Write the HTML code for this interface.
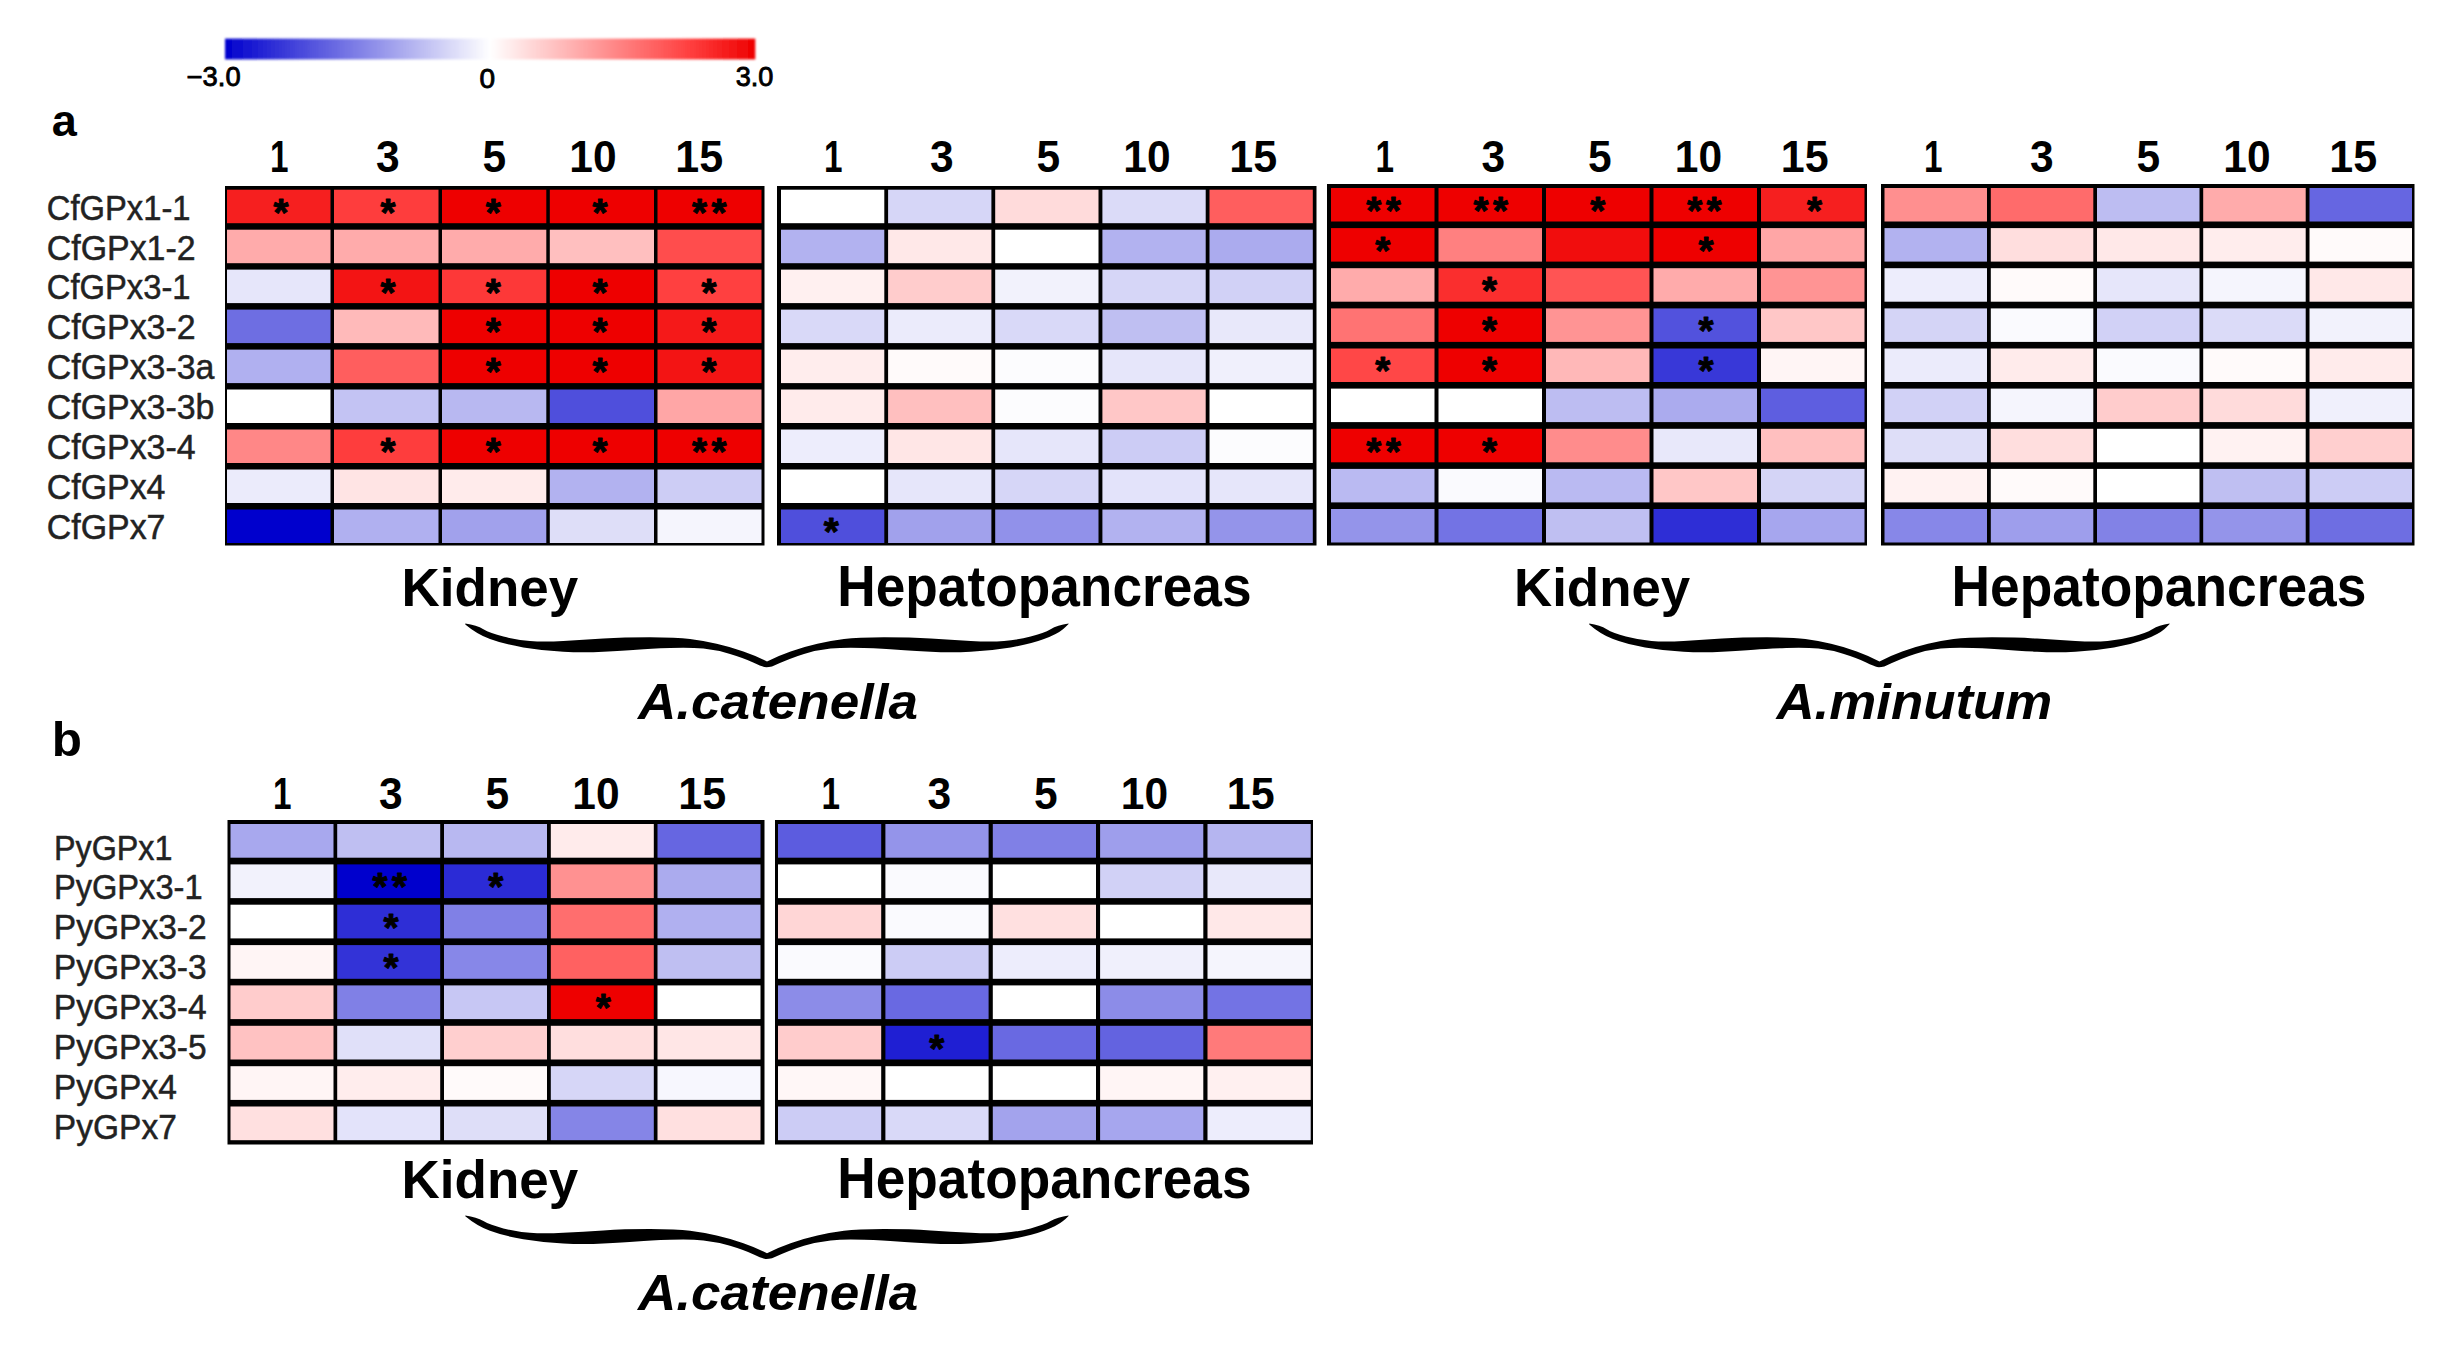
<!DOCTYPE html>
<html lang="en"><head><meta charset="utf-8"><title>GPx expression heat map</title>
<style>html,body{margin:0;padding:0;background:#fff}body{width:2460px;height:1350px;overflow:hidden}svg{display:block}.r{stroke:#222;stroke-width:0.5px}.c{stroke:#000;stroke-width:0.9px}text{font-family:"Liberation Sans", sans-serif}.s{font-weight:bold;font-size:38.5px;stroke:#000;stroke-width:0.9px;stroke-linejoin:round}</style></head><body>
<svg width="2460" height="1350" viewBox="0 0 2460 1350">
<defs><linearGradient id="cb" x1="0" x2="1" y1="0" y2="0"><stop offset="0" stop-color="#0000cd"/><stop offset="0.5" stop-color="#ffffff"/><stop offset="0.875" stop-color="#ff4040"/><stop offset="1" stop-color="#ee0000"/></linearGradient>
<filter id="soft" x="-5%" y="-20%" width="110%" height="140%"><feGaussianBlur stdDeviation="0.8"/></filter>
</defs>
<rect width="2460" height="1350" fill="#fff"/>
<g id="figure">
<g id="colorbar"><rect x="225" y="38.6" width="530.3" height="20.8" fill="url(#cb)" filter="url(#soft)"/></g>
<g id="panel-a1">
<rect x="225" y="186" width="539.5" height="359.5" fill="#000"/>
<rect x="227.0" y="189.7" width="103.5" height="33.5" fill="#f61f1f"/>
<text class="s" x="273.4" y="225.5">*</text>
<rect x="334.0" y="189.7" width="104.5" height="33.5" fill="#fe3d3d"/>
<text class="s" x="380.6" y="225.5">*</text>
<rect x="442.0" y="189.7" width="104.3" height="33.5" fill="#ee0000"/>
<text class="s" x="485.7" y="225.5">*</text>
<rect x="549.8" y="189.7" width="104.2" height="33.5" fill="#ee0000"/>
<text class="s" x="592.4" y="225.5">*</text>
<rect x="657.5" y="189.7" width="104.0" height="33.5" fill="#ee0000"/>
<text class="s" x="692.0" y="225.5" letter-spacing="4.4">**</text>
<rect x="227.0" y="229.7" width="103.5" height="33.5" fill="#ffabab"/>
<rect x="334.0" y="229.7" width="104.5" height="33.5" fill="#ffabab"/>
<rect x="442.0" y="229.7" width="104.3" height="33.5" fill="#ffabab"/>
<rect x="549.8" y="229.7" width="104.2" height="33.5" fill="#ffbfbf"/>
<rect x="657.5" y="229.7" width="104.0" height="33.5" fill="#ff4d4d"/>
<rect x="227.0" y="269.6" width="103.5" height="33.5" fill="#e6e6fa"/>
<rect x="334.0" y="269.6" width="104.5" height="33.5" fill="#f31414"/>
<text class="s" x="380.6" y="305.5">*</text>
<rect x="442.0" y="269.6" width="104.3" height="33.5" fill="#fd3838"/>
<text class="s" x="485.7" y="305.5">*</text>
<rect x="549.8" y="269.6" width="104.2" height="33.5" fill="#ee0000"/>
<text class="s" x="592.4" y="305.5">*</text>
<rect x="657.5" y="269.6" width="104.0" height="33.5" fill="#ff4040"/>
<text class="s" x="701.4" y="305.5">*</text>
<rect x="227.0" y="309.6" width="103.5" height="33.5" fill="#6e6ee2"/>
<rect x="334.0" y="309.6" width="104.5" height="33.5" fill="#ffbaba"/>
<rect x="442.0" y="309.6" width="104.3" height="33.5" fill="#ee0000"/>
<text class="s" x="485.7" y="345.4">*</text>
<rect x="549.8" y="309.6" width="104.2" height="33.5" fill="#ee0000"/>
<text class="s" x="592.4" y="345.4">*</text>
<rect x="657.5" y="309.6" width="104.0" height="33.5" fill="#f51919"/>
<text class="s" x="701.4" y="345.4">*</text>
<rect x="227.0" y="349.6" width="103.5" height="33.5" fill="#b0b0f0"/>
<rect x="334.0" y="349.6" width="104.5" height="33.5" fill="#ff5e5e"/>
<rect x="442.0" y="349.6" width="104.3" height="33.5" fill="#ee0000"/>
<text class="s" x="485.7" y="385.4">*</text>
<rect x="549.8" y="349.6" width="104.2" height="33.5" fill="#ee0000"/>
<text class="s" x="592.4" y="385.4">*</text>
<rect x="657.5" y="349.6" width="104.0" height="33.5" fill="#f31414"/>
<text class="s" x="701.4" y="385.4">*</text>
<rect x="227.0" y="389.5" width="103.5" height="33.5" fill="#ffffff"/>
<rect x="334.0" y="389.5" width="104.5" height="33.5" fill="#c3c3f3"/>
<rect x="442.0" y="389.5" width="104.3" height="33.5" fill="#b8b8f1"/>
<rect x="549.8" y="389.5" width="104.2" height="33.5" fill="#4f4fdc"/>
<rect x="657.5" y="389.5" width="104.0" height="33.5" fill="#ffa6a6"/>
<rect x="227.0" y="429.5" width="103.5" height="33.5" fill="#ff8787"/>
<rect x="334.0" y="429.5" width="104.5" height="33.5" fill="#fe3d3d"/>
<text class="s" x="380.6" y="465.3">*</text>
<rect x="442.0" y="429.5" width="104.3" height="33.5" fill="#ee0000"/>
<text class="s" x="485.7" y="465.3">*</text>
<rect x="549.8" y="429.5" width="104.2" height="33.5" fill="#ee0000"/>
<text class="s" x="592.4" y="465.3">*</text>
<rect x="657.5" y="429.5" width="104.0" height="33.5" fill="#ee0000"/>
<text class="s" x="692.0" y="465.3" letter-spacing="4.4">**</text>
<rect x="227.0" y="469.5" width="103.5" height="33.5" fill="#ebebfb"/>
<rect x="334.0" y="469.5" width="104.5" height="33.5" fill="#ffe4e4"/>
<rect x="442.0" y="469.5" width="104.3" height="33.5" fill="#ffebeb"/>
<rect x="549.8" y="469.5" width="104.2" height="33.5" fill="#b2b2f0"/>
<rect x="657.5" y="469.5" width="104.0" height="33.5" fill="#cdcdf5"/>
<rect x="227.0" y="509.5" width="103.5" height="33.5" fill="#0000cd"/>
<rect x="334.0" y="509.5" width="104.5" height="33.5" fill="#b0b0f0"/>
<rect x="442.0" y="509.5" width="104.3" height="33.5" fill="#a1a1ec"/>
<rect x="549.8" y="509.5" width="104.2" height="33.5" fill="#dedef8"/>
<rect x="657.5" y="509.5" width="104.0" height="33.5" fill="#f5f5fd"/>
</g>
<g id="panel-a2">
<rect x="777" y="186" width="539.5" height="359.5" fill="#000"/>
<rect x="781.0" y="189.7" width="103.3" height="33.5" fill="#ffffff"/>
<rect x="888.1" y="189.7" width="103.3" height="33.5" fill="#d6d6f7"/>
<rect x="995.2" y="189.7" width="103.3" height="33.5" fill="#ffdbdb"/>
<rect x="1102.4" y="189.7" width="103.3" height="33.5" fill="#dbdbf8"/>
<rect x="1209.5" y="189.7" width="103.3" height="33.5" fill="#ff5e5e"/>
<rect x="781.0" y="229.7" width="103.3" height="33.5" fill="#b2b2f0"/>
<rect x="888.1" y="229.7" width="103.3" height="33.5" fill="#ffe8e8"/>
<rect x="995.2" y="229.7" width="103.3" height="33.5" fill="#ffffff"/>
<rect x="1102.4" y="229.7" width="103.3" height="33.5" fill="#b2b2f0"/>
<rect x="1209.5" y="229.7" width="103.3" height="33.5" fill="#ababee"/>
<rect x="781.0" y="269.6" width="103.3" height="33.5" fill="#fff0f0"/>
<rect x="888.1" y="269.6" width="103.3" height="33.5" fill="#ffcccc"/>
<rect x="995.2" y="269.6" width="103.3" height="33.5" fill="#f2f2fc"/>
<rect x="1102.4" y="269.6" width="103.3" height="33.5" fill="#d6d6f7"/>
<rect x="1209.5" y="269.6" width="103.3" height="33.5" fill="#d1d1f6"/>
<rect x="781.0" y="309.6" width="103.3" height="33.5" fill="#d9d9f8"/>
<rect x="888.1" y="309.6" width="103.3" height="33.5" fill="#ebebfb"/>
<rect x="995.2" y="309.6" width="103.3" height="33.5" fill="#d9d9f8"/>
<rect x="1102.4" y="309.6" width="103.3" height="33.5" fill="#bfbff2"/>
<rect x="1209.5" y="309.6" width="103.3" height="33.5" fill="#e8e8fa"/>
<rect x="781.0" y="349.6" width="103.3" height="33.5" fill="#ffeded"/>
<rect x="888.1" y="349.6" width="103.3" height="33.5" fill="#fffafa"/>
<rect x="995.2" y="349.6" width="103.3" height="33.5" fill="#fcfcfe"/>
<rect x="1102.4" y="349.6" width="103.3" height="33.5" fill="#e6e6fa"/>
<rect x="1209.5" y="349.6" width="103.3" height="33.5" fill="#f0f0fc"/>
<rect x="781.0" y="389.5" width="103.3" height="33.5" fill="#ffebeb"/>
<rect x="888.1" y="389.5" width="103.3" height="33.5" fill="#ffbfbf"/>
<rect x="995.2" y="389.5" width="103.3" height="33.5" fill="#fcfcfe"/>
<rect x="1102.4" y="389.5" width="103.3" height="33.5" fill="#ffc7c7"/>
<rect x="1209.5" y="389.5" width="103.3" height="33.5" fill="#ffffff"/>
<rect x="781.0" y="429.5" width="103.3" height="33.5" fill="#ededfc"/>
<rect x="888.1" y="429.5" width="103.3" height="33.5" fill="#ffe6e6"/>
<rect x="995.2" y="429.5" width="103.3" height="33.5" fill="#e6e6fa"/>
<rect x="1102.4" y="429.5" width="103.3" height="33.5" fill="#ccccf5"/>
<rect x="1209.5" y="429.5" width="103.3" height="33.5" fill="#fcfcfe"/>
<rect x="781.0" y="469.5" width="103.3" height="33.5" fill="#ffffff"/>
<rect x="888.1" y="469.5" width="103.3" height="33.5" fill="#e6e6fa"/>
<rect x="995.2" y="469.5" width="103.3" height="33.5" fill="#d6d6f7"/>
<rect x="1102.4" y="469.5" width="103.3" height="33.5" fill="#e3e3fa"/>
<rect x="1209.5" y="469.5" width="103.3" height="33.5" fill="#e6e6fa"/>
<rect x="781.0" y="509.5" width="103.3" height="33.5" fill="#4f4fdc"/>
<text class="s" x="823.8" y="545.3">*</text>
<rect x="888.1" y="509.5" width="103.3" height="33.5" fill="#a1a1ec"/>
<rect x="995.2" y="509.5" width="103.3" height="33.5" fill="#9191ea"/>
<rect x="1102.4" y="509.5" width="103.3" height="33.5" fill="#b2b2f0"/>
<rect x="1209.5" y="509.5" width="103.3" height="33.5" fill="#9494ea"/>
</g>
<g id="panel-a3">
<rect x="1327" y="184" width="540" height="361.5" fill="#000"/>
<rect x="1331.0" y="188.0" width="103.5" height="33.5" fill="#ee0000"/>
<text class="s" x="1366.3" y="223.8" letter-spacing="4.4">**</text>
<rect x="1438.5" y="188.0" width="103.5" height="33.5" fill="#ee0000"/>
<text class="s" x="1473.5" y="223.8" letter-spacing="4.4">**</text>
<rect x="1546.0" y="188.0" width="103.5" height="33.5" fill="#ee0000"/>
<text class="s" x="1590.2" y="223.8">*</text>
<rect x="1653.5" y="188.0" width="103.5" height="33.5" fill="#ee0000"/>
<text class="s" x="1687.2" y="223.8" letter-spacing="4.4">**</text>
<rect x="1761.0" y="188.0" width="103.5" height="33.5" fill="#f61f1f"/>
<text class="s" x="1807.1" y="223.8">*</text>
<rect x="1331.0" y="228.1" width="103.5" height="33.5" fill="#ee0000"/>
<text class="s" x="1375.3" y="263.9">*</text>
<rect x="1438.5" y="228.1" width="103.5" height="33.5" fill="#ff8080"/>
<rect x="1546.0" y="228.1" width="103.5" height="33.5" fill="#f10d0d"/>
<rect x="1653.5" y="228.1" width="103.5" height="33.5" fill="#ee0000"/>
<text class="s" x="1698.5" y="263.9">*</text>
<rect x="1761.0" y="228.1" width="103.5" height="33.5" fill="#ffa6a6"/>
<rect x="1331.0" y="268.2" width="103.5" height="33.5" fill="#ffabab"/>
<rect x="1438.5" y="268.2" width="103.5" height="33.5" fill="#fa2e2e"/>
<text class="s" x="1482.1" y="304.1">*</text>
<rect x="1546.0" y="268.2" width="103.5" height="33.5" fill="#ff5454"/>
<rect x="1653.5" y="268.2" width="103.5" height="33.5" fill="#ffabab"/>
<rect x="1761.0" y="268.2" width="103.5" height="33.5" fill="#ff9494"/>
<rect x="1331.0" y="308.4" width="103.5" height="33.5" fill="#ff7373"/>
<rect x="1438.5" y="308.4" width="103.5" height="33.5" fill="#ee0000"/>
<text class="s" x="1482.1" y="344.2">*</text>
<rect x="1546.0" y="308.4" width="103.5" height="33.5" fill="#ff9494"/>
<rect x="1653.5" y="308.4" width="103.5" height="33.5" fill="#5252dd"/>
<text class="s" x="1698.5" y="344.2">*</text>
<rect x="1761.0" y="308.4" width="103.5" height="33.5" fill="#ffc7c7"/>
<rect x="1331.0" y="348.5" width="103.5" height="33.5" fill="#ff4747"/>
<text class="s" x="1375.3" y="384.3">*</text>
<rect x="1438.5" y="348.5" width="103.5" height="33.5" fill="#ee0000"/>
<text class="s" x="1482.1" y="384.3">*</text>
<rect x="1546.0" y="348.5" width="103.5" height="33.5" fill="#ffb8b8"/>
<rect x="1653.5" y="348.5" width="103.5" height="33.5" fill="#3838d8"/>
<text class="s" x="1698.5" y="384.3">*</text>
<rect x="1761.0" y="348.5" width="103.5" height="33.5" fill="#fff5f5"/>
<rect x="1331.0" y="388.6" width="103.5" height="33.5" fill="#ffffff"/>
<rect x="1438.5" y="388.6" width="103.5" height="33.5" fill="#ffffff"/>
<rect x="1546.0" y="388.6" width="103.5" height="33.5" fill="#bdbdf2"/>
<rect x="1653.5" y="388.6" width="103.5" height="33.5" fill="#ababee"/>
<rect x="1761.0" y="388.6" width="103.5" height="33.5" fill="#5e5ee0"/>
<rect x="1331.0" y="428.8" width="103.5" height="33.5" fill="#ee0000"/>
<text class="s" x="1366.3" y="464.6" letter-spacing="4.4">**</text>
<rect x="1438.5" y="428.8" width="103.5" height="33.5" fill="#ee0000"/>
<text class="s" x="1482.1" y="464.6">*</text>
<rect x="1546.0" y="428.8" width="103.5" height="33.5" fill="#ff8c8c"/>
<rect x="1653.5" y="428.8" width="103.5" height="33.5" fill="#e8e8fa"/>
<rect x="1761.0" y="428.8" width="103.5" height="33.5" fill="#ffbfbf"/>
<rect x="1331.0" y="468.9" width="103.5" height="33.5" fill="#babaf2"/>
<rect x="1438.5" y="468.9" width="103.5" height="33.5" fill="#fafafe"/>
<rect x="1546.0" y="468.9" width="103.5" height="33.5" fill="#babaf2"/>
<rect x="1653.5" y="468.9" width="103.5" height="33.5" fill="#ffc7c7"/>
<rect x="1761.0" y="468.9" width="103.5" height="33.5" fill="#d4d4f6"/>
<rect x="1331.0" y="509.0" width="103.5" height="33.5" fill="#9494ea"/>
<rect x="1438.5" y="509.0" width="103.5" height="33.5" fill="#7373e4"/>
<rect x="1546.0" y="509.0" width="103.5" height="33.5" fill="#bfbff2"/>
<rect x="1653.5" y="509.0" width="103.5" height="33.5" fill="#2e2ed6"/>
<rect x="1761.0" y="509.0" width="103.5" height="33.5" fill="#a6a6ee"/>
</g>
<g id="panel-a4">
<rect x="1881" y="184" width="533.5" height="361.5" fill="#000"/>
<rect x="1884.5" y="188.0" width="102.5" height="33.5" fill="#ff8f8f"/>
<rect x="1990.8" y="188.0" width="102.5" height="33.5" fill="#ff6b6b"/>
<rect x="2097.0" y="188.0" width="102.5" height="33.5" fill="#bdbdf2"/>
<rect x="2203.2" y="188.0" width="102.5" height="33.5" fill="#ffabab"/>
<rect x="2309.5" y="188.0" width="102.5" height="33.5" fill="#6666e1"/>
<rect x="1884.5" y="228.1" width="102.5" height="33.5" fill="#b2b2f0"/>
<rect x="1990.8" y="228.1" width="102.5" height="33.5" fill="#ffdede"/>
<rect x="2097.0" y="228.1" width="102.5" height="33.5" fill="#ffe8e8"/>
<rect x="2203.2" y="228.1" width="102.5" height="33.5" fill="#ffeded"/>
<rect x="2309.5" y="228.1" width="102.5" height="33.5" fill="#fffafa"/>
<rect x="1884.5" y="268.2" width="102.5" height="33.5" fill="#ededfc"/>
<rect x="1990.8" y="268.2" width="102.5" height="33.5" fill="#fffafa"/>
<rect x="2097.0" y="268.2" width="102.5" height="33.5" fill="#e6e6fa"/>
<rect x="2203.2" y="268.2" width="102.5" height="33.5" fill="#f5f5fd"/>
<rect x="2309.5" y="268.2" width="102.5" height="33.5" fill="#ffe8e8"/>
<rect x="1884.5" y="308.4" width="102.5" height="33.5" fill="#d4d4f6"/>
<rect x="1990.8" y="308.4" width="102.5" height="33.5" fill="#fafafe"/>
<rect x="2097.0" y="308.4" width="102.5" height="33.5" fill="#d1d1f6"/>
<rect x="2203.2" y="308.4" width="102.5" height="33.5" fill="#dbdbf8"/>
<rect x="2309.5" y="308.4" width="102.5" height="33.5" fill="#f2f2fc"/>
<rect x="1884.5" y="348.5" width="102.5" height="33.5" fill="#ebebfb"/>
<rect x="1990.8" y="348.5" width="102.5" height="33.5" fill="#ffebeb"/>
<rect x="2097.0" y="348.5" width="102.5" height="33.5" fill="#fafafe"/>
<rect x="2203.2" y="348.5" width="102.5" height="33.5" fill="#fffafa"/>
<rect x="2309.5" y="348.5" width="102.5" height="33.5" fill="#ffebeb"/>
<rect x="1884.5" y="388.6" width="102.5" height="33.5" fill="#d1d1f6"/>
<rect x="1990.8" y="388.6" width="102.5" height="33.5" fill="#f5f5fd"/>
<rect x="2097.0" y="388.6" width="102.5" height="33.5" fill="#ffcccc"/>
<rect x="2203.2" y="388.6" width="102.5" height="33.5" fill="#ffdbdb"/>
<rect x="2309.5" y="388.6" width="102.5" height="33.5" fill="#f0f0fc"/>
<rect x="1884.5" y="428.8" width="102.5" height="33.5" fill="#dedef8"/>
<rect x="1990.8" y="428.8" width="102.5" height="33.5" fill="#ffdede"/>
<rect x="2097.0" y="428.8" width="102.5" height="33.5" fill="#ffffff"/>
<rect x="2203.2" y="428.8" width="102.5" height="33.5" fill="#fff2f2"/>
<rect x="2309.5" y="428.8" width="102.5" height="33.5" fill="#ffcfcf"/>
<rect x="1884.5" y="468.9" width="102.5" height="33.5" fill="#fff2f2"/>
<rect x="1990.8" y="468.9" width="102.5" height="33.5" fill="#fffafa"/>
<rect x="2097.0" y="468.9" width="102.5" height="33.5" fill="#ffffff"/>
<rect x="2203.2" y="468.9" width="102.5" height="33.5" fill="#bfbff2"/>
<rect x="2309.5" y="468.9" width="102.5" height="33.5" fill="#ccccf5"/>
<rect x="1884.5" y="509.0" width="102.5" height="33.5" fill="#8787e8"/>
<rect x="1990.8" y="509.0" width="102.5" height="33.5" fill="#9e9eec"/>
<rect x="2097.0" y="509.0" width="102.5" height="33.5" fill="#8282e6"/>
<rect x="2203.2" y="509.0" width="102.5" height="33.5" fill="#9494ea"/>
<rect x="2309.5" y="509.0" width="102.5" height="33.5" fill="#6e6ee2"/>
</g>
<g id="panel-b1">
<rect x="227.5" y="820" width="537" height="324.5" fill="#000"/>
<rect x="230.5" y="824.0" width="103.0" height="33.7" fill="#a8a8ee"/>
<rect x="337.2" y="824.0" width="103.0" height="33.7" fill="#bfbff2"/>
<rect x="444.0" y="824.0" width="103.0" height="33.7" fill="#b8b8f1"/>
<rect x="550.8" y="824.0" width="103.0" height="33.7" fill="#ffebeb"/>
<rect x="657.5" y="824.0" width="103.0" height="33.7" fill="#6666e1"/>
<rect x="230.5" y="864.4" width="103.0" height="33.7" fill="#f2f2fc"/>
<rect x="337.2" y="864.4" width="103.0" height="33.7" fill="#0000cd"/>
<text class="s" x="372.5" y="900.3" letter-spacing="4.4">**</text>
<rect x="444.0" y="864.4" width="103.0" height="33.7" fill="#2b2bd6"/>
<text class="s" x="488.2" y="900.3">*</text>
<rect x="550.8" y="864.4" width="103.0" height="33.7" fill="#ff9191"/>
<rect x="657.5" y="864.4" width="103.0" height="33.7" fill="#ababee"/>
<rect x="230.5" y="904.7" width="103.0" height="33.7" fill="#ffffff"/>
<rect x="337.2" y="904.7" width="103.0" height="33.7" fill="#2e2ed6"/>
<text class="s" x="383.6" y="940.6">*</text>
<rect x="444.0" y="904.7" width="103.0" height="33.7" fill="#8080e6"/>
<rect x="550.8" y="904.7" width="103.0" height="33.7" fill="#ff6e6e"/>
<rect x="657.5" y="904.7" width="103.0" height="33.7" fill="#b0b0f0"/>
<rect x="230.5" y="945.1" width="103.0" height="33.7" fill="#fff5f5"/>
<rect x="337.2" y="945.1" width="103.0" height="33.7" fill="#3333d7"/>
<text class="s" x="383.6" y="981.0">*</text>
<rect x="444.0" y="945.1" width="103.0" height="33.7" fill="#8787e8"/>
<rect x="550.8" y="945.1" width="103.0" height="33.7" fill="#ff6161"/>
<rect x="657.5" y="945.1" width="103.0" height="33.7" fill="#bfbff2"/>
<rect x="230.5" y="985.4" width="103.0" height="33.7" fill="#ffcccc"/>
<rect x="337.2" y="985.4" width="103.0" height="33.7" fill="#8080e6"/>
<rect x="444.0" y="985.4" width="103.0" height="33.7" fill="#c7c7f4"/>
<rect x="550.8" y="985.4" width="103.0" height="33.7" fill="#ee0000"/>
<text class="s" x="595.7" y="1021.4">*</text>
<rect x="657.5" y="985.4" width="103.0" height="33.7" fill="#ffffff"/>
<rect x="230.5" y="1025.8" width="103.0" height="33.7" fill="#ffc2c2"/>
<rect x="337.2" y="1025.8" width="103.0" height="33.7" fill="#e0e0f9"/>
<rect x="444.0" y="1025.8" width="103.0" height="33.7" fill="#ffcfcf"/>
<rect x="550.8" y="1025.8" width="103.0" height="33.7" fill="#ffdede"/>
<rect x="657.5" y="1025.8" width="103.0" height="33.7" fill="#ffe6e6"/>
<rect x="230.5" y="1066.2" width="103.0" height="33.7" fill="#fff5f5"/>
<rect x="337.2" y="1066.2" width="103.0" height="33.7" fill="#ffeded"/>
<rect x="444.0" y="1066.2" width="103.0" height="33.7" fill="#fffafa"/>
<rect x="550.8" y="1066.2" width="103.0" height="33.7" fill="#d6d6f7"/>
<rect x="657.5" y="1066.2" width="103.0" height="33.7" fill="#f7f7fe"/>
<rect x="230.5" y="1106.5" width="103.0" height="33.7" fill="#ffe0e0"/>
<rect x="337.2" y="1106.5" width="103.0" height="33.7" fill="#e3e3fa"/>
<rect x="444.0" y="1106.5" width="103.0" height="33.7" fill="#dedef8"/>
<rect x="550.8" y="1106.5" width="103.0" height="33.7" fill="#8585e7"/>
<rect x="657.5" y="1106.5" width="103.0" height="33.7" fill="#ffe0e0"/>
</g>
<g id="panel-b2">
<rect x="775" y="820" width="538" height="324.5" fill="#000"/>
<rect x="778.0" y="824.0" width="103.2" height="33.7" fill="#5c5cdf"/>
<rect x="885.4" y="824.0" width="103.2" height="33.7" fill="#9494ea"/>
<rect x="992.8" y="824.0" width="103.2" height="33.7" fill="#8080e6"/>
<rect x="1100.1" y="824.0" width="103.2" height="33.7" fill="#9e9eec"/>
<rect x="1207.5" y="824.0" width="103.2" height="33.7" fill="#b5b5f0"/>
<rect x="778.0" y="864.4" width="103.2" height="33.7" fill="#ffffff"/>
<rect x="885.4" y="864.4" width="103.2" height="33.7" fill="#fafafe"/>
<rect x="992.8" y="864.4" width="103.2" height="33.7" fill="#ffffff"/>
<rect x="1100.1" y="864.4" width="103.2" height="33.7" fill="#d1d1f6"/>
<rect x="1207.5" y="864.4" width="103.2" height="33.7" fill="#e8e8fa"/>
<rect x="778.0" y="904.7" width="103.2" height="33.7" fill="#ffd6d6"/>
<rect x="885.4" y="904.7" width="103.2" height="33.7" fill="#fafafe"/>
<rect x="992.8" y="904.7" width="103.2" height="33.7" fill="#ffe0e0"/>
<rect x="1100.1" y="904.7" width="103.2" height="33.7" fill="#ffffff"/>
<rect x="1207.5" y="904.7" width="103.2" height="33.7" fill="#ffe8e8"/>
<rect x="778.0" y="945.1" width="103.2" height="33.7" fill="#fafafe"/>
<rect x="885.4" y="945.1" width="103.2" height="33.7" fill="#ccccf5"/>
<rect x="992.8" y="945.1" width="103.2" height="33.7" fill="#ededfc"/>
<rect x="1100.1" y="945.1" width="103.2" height="33.7" fill="#f0f0fc"/>
<rect x="1207.5" y="945.1" width="103.2" height="33.7" fill="#f5f5fd"/>
<rect x="778.0" y="985.4" width="103.2" height="33.7" fill="#8c8ce8"/>
<rect x="885.4" y="985.4" width="103.2" height="33.7" fill="#6969e2"/>
<rect x="992.8" y="985.4" width="103.2" height="33.7" fill="#ffffff"/>
<rect x="1100.1" y="985.4" width="103.2" height="33.7" fill="#8c8ce8"/>
<rect x="1207.5" y="985.4" width="103.2" height="33.7" fill="#7373e4"/>
<rect x="778.0" y="1025.8" width="103.2" height="33.7" fill="#ffcccc"/>
<rect x="885.4" y="1025.8" width="103.2" height="33.7" fill="#1f1fd3"/>
<text class="s" x="929.2" y="1061.7">*</text>
<rect x="992.8" y="1025.8" width="103.2" height="33.7" fill="#6969e2"/>
<rect x="1100.1" y="1025.8" width="103.2" height="33.7" fill="#6363e0"/>
<rect x="1207.5" y="1025.8" width="103.2" height="33.7" fill="#ff7a7a"/>
<rect x="778.0" y="1066.2" width="103.2" height="33.7" fill="#fff7f7"/>
<rect x="885.4" y="1066.2" width="103.2" height="33.7" fill="#ffffff"/>
<rect x="992.8" y="1066.2" width="103.2" height="33.7" fill="#ffffff"/>
<rect x="1100.1" y="1066.2" width="103.2" height="33.7" fill="#fff5f5"/>
<rect x="1207.5" y="1066.2" width="103.2" height="33.7" fill="#fff0f0"/>
<rect x="778.0" y="1106.5" width="103.2" height="33.7" fill="#ccccf5"/>
<rect x="885.4" y="1106.5" width="103.2" height="33.7" fill="#d9d9f8"/>
<rect x="992.8" y="1106.5" width="103.2" height="33.7" fill="#a3a3ed"/>
<rect x="1100.1" y="1106.5" width="103.2" height="33.7" fill="#a6a6ee"/>
<rect x="1207.5" y="1106.5" width="103.2" height="33.7" fill="#ededfc"/>
</g>
<g id="labels">
<text class="c" transform="translate(186.64,86.10) scale(0.9763,0.9590)" font-size="28" font-weight="normal" fill="#000">−3.0</text>
<text class="c" transform="translate(479.40,88.10) scale(1.0000,0.9949)" font-size="28" font-weight="normal" fill="#000">0</text>
<text class="c" transform="translate(735.73,86.10) scale(0.9687,0.9949)" font-size="28" font-weight="normal" fill="#000">3.0</text>
<text transform="translate(51.78,136.30) scale(0.9796,0.9818)" font-size="46" font-weight="bold" fill="#000">a</text>
<text transform="translate(51.77,756.30) scale(1.0753,1.0617)" font-size="46" font-weight="bold" fill="#000">b</text>
<text transform="translate(269.92,172.00) scale(0.7561,1.0248)" font-size="44" font-weight="bold" fill="#000">1</text>
<text transform="translate(376.03,172.00) scale(0.9655,1.0081)" font-size="44" font-weight="bold" fill="#000">3</text>
<text transform="translate(482.55,172.00) scale(0.9655,1.0248)" font-size="44" font-weight="bold" fill="#000">5</text>
<text transform="translate(569.34,172.00) scale(0.9663,1.0081)" font-size="44" font-weight="bold" fill="#000">10</text>
<text transform="translate(675.31,172.00) scale(0.9778,1.0248)" font-size="44" font-weight="bold" fill="#000">15</text>
<text transform="translate(823.92,172.00) scale(0.7561,1.0248)" font-size="44" font-weight="bold" fill="#000">1</text>
<text transform="translate(930.03,172.00) scale(0.9655,1.0081)" font-size="44" font-weight="bold" fill="#000">3</text>
<text transform="translate(1036.55,172.00) scale(0.9655,1.0248)" font-size="44" font-weight="bold" fill="#000">5</text>
<text transform="translate(1123.34,172.00) scale(0.9663,1.0081)" font-size="44" font-weight="bold" fill="#000">10</text>
<text transform="translate(1229.31,172.00) scale(0.9778,1.0248)" font-size="44" font-weight="bold" fill="#000">15</text>
<text transform="translate(1375.42,172.00) scale(0.7561,1.0248)" font-size="44" font-weight="bold" fill="#000">1</text>
<text transform="translate(1481.53,172.00) scale(0.9655,1.0081)" font-size="44" font-weight="bold" fill="#000">3</text>
<text transform="translate(1588.05,172.00) scale(0.9655,1.0248)" font-size="44" font-weight="bold" fill="#000">5</text>
<text transform="translate(1674.84,172.00) scale(0.9663,1.0081)" font-size="44" font-weight="bold" fill="#000">10</text>
<text transform="translate(1780.81,172.00) scale(0.9778,1.0248)" font-size="44" font-weight="bold" fill="#000">15</text>
<text transform="translate(1923.92,172.00) scale(0.7561,1.0248)" font-size="44" font-weight="bold" fill="#000">1</text>
<text transform="translate(2030.03,172.00) scale(0.9655,1.0081)" font-size="44" font-weight="bold" fill="#000">3</text>
<text transform="translate(2136.55,172.00) scale(0.9655,1.0248)" font-size="44" font-weight="bold" fill="#000">5</text>
<text transform="translate(2223.34,172.00) scale(0.9663,1.0081)" font-size="44" font-weight="bold" fill="#000">10</text>
<text transform="translate(2329.31,172.00) scale(0.9778,1.0248)" font-size="44" font-weight="bold" fill="#000">15</text>
<text transform="translate(272.92,809.00) scale(0.7561,1.0248)" font-size="44" font-weight="bold" fill="#000">1</text>
<text transform="translate(379.03,809.00) scale(0.9655,1.0081)" font-size="44" font-weight="bold" fill="#000">3</text>
<text transform="translate(485.55,809.00) scale(0.9655,1.0248)" font-size="44" font-weight="bold" fill="#000">5</text>
<text transform="translate(572.34,809.00) scale(0.9663,1.0081)" font-size="44" font-weight="bold" fill="#000">10</text>
<text transform="translate(678.31,809.00) scale(0.9778,1.0248)" font-size="44" font-weight="bold" fill="#000">15</text>
<text transform="translate(821.42,809.00) scale(0.7561,1.0248)" font-size="44" font-weight="bold" fill="#000">1</text>
<text transform="translate(927.53,809.00) scale(0.9655,1.0081)" font-size="44" font-weight="bold" fill="#000">3</text>
<text transform="translate(1034.05,809.00) scale(0.9655,1.0248)" font-size="44" font-weight="bold" fill="#000">5</text>
<text transform="translate(1120.84,809.00) scale(0.9663,1.0081)" font-size="44" font-weight="bold" fill="#000">10</text>
<text transform="translate(1226.81,809.00) scale(0.9778,1.0248)" font-size="44" font-weight="bold" fill="#000">15</text>
<text class="r" transform="translate(46.86,219.70) scale(0.9351,0.9782)" font-size="35" font-weight="normal" fill="#222">CfGPx1-1</text>
<text class="r" transform="translate(46.81,259.55) scale(0.9684,0.9782)" font-size="35" font-weight="normal" fill="#222">CfGPx1-2</text>
<text class="r" transform="translate(46.86,299.40) scale(0.9351,0.9782)" font-size="35" font-weight="normal" fill="#222">CfGPx3-1</text>
<text class="r" transform="translate(46.81,339.25) scale(0.9684,0.9782)" font-size="35" font-weight="normal" fill="#222">CfGPx3-2</text>
<text class="r" transform="translate(46.81,379.10) scale(0.9684,0.9782)" font-size="35" font-weight="normal" fill="#222">CfGPx3-3a</text>
<text class="r" transform="translate(46.81,418.95) scale(0.9684,0.9782)" font-size="35" font-weight="normal" fill="#222">CfGPx3-3b</text>
<text class="r" transform="translate(46.81,458.80) scale(0.9684,0.9782)" font-size="35" font-weight="normal" fill="#222">CfGPx3-4</text>
<text class="r" transform="translate(46.81,498.65) scale(0.9684,0.9782)" font-size="35" font-weight="normal" fill="#222">CfGPx4</text>
<text class="r" transform="translate(46.81,538.50) scale(0.9684,0.9782)" font-size="35" font-weight="normal" fill="#222">CfGPx7</text>
<text class="r" transform="translate(53.96,859.50) scale(0.9234,1.0204)" font-size="35" font-weight="normal" fill="#222">PyGPx1</text>
<text class="r" transform="translate(53.94,899.40) scale(0.9323,1.0204)" font-size="35" font-weight="normal" fill="#222">PyGPx3-1</text>
<text class="r" transform="translate(53.87,939.30) scale(0.9581,1.0204)" font-size="35" font-weight="normal" fill="#222">PyGPx3-2</text>
<text class="r" transform="translate(53.87,979.20) scale(0.9581,1.0204)" font-size="35" font-weight="normal" fill="#222">PyGPx3-3</text>
<text class="r" transform="translate(53.87,1019.10) scale(0.9581,1.0204)" font-size="35" font-weight="normal" fill="#222">PyGPx3-4</text>
<text class="r" transform="translate(53.87,1059.00) scale(0.9581,1.0204)" font-size="35" font-weight="normal" fill="#222">PyGPx3-5</text>
<text class="r" transform="translate(53.87,1098.90) scale(0.9581,1.0204)" font-size="35" font-weight="normal" fill="#222">PyGPx4</text>
<text class="r" transform="translate(53.87,1138.80) scale(0.9581,1.0204)" font-size="35" font-weight="normal" fill="#222">PyGPx7</text>
<text transform="translate(401.56,605.80) scale(0.9816,1.0026)" font-size="54" font-weight="bold" fill="#000">Kidney</text>
<text transform="translate(837.25,605.80) scale(0.9862,1.0568)" font-size="54" font-weight="bold" fill="#000">Hepatopancreas</text>
<text transform="translate(1513.97,605.80) scale(0.9793,1.0026)" font-size="54" font-weight="bold" fill="#000">Kidney</text>
<text transform="translate(1951.54,605.80) scale(0.9877,1.0568)" font-size="54" font-weight="bold" fill="#000">Hepatopancreas</text>
<text transform="translate(401.56,1197.50) scale(0.9816,1.0026)" font-size="54" font-weight="bold" fill="#000">Kidney</text>
<text transform="translate(837.25,1197.50) scale(0.9862,1.0568)" font-size="54" font-weight="bold" fill="#000">Hepatopancreas</text>
<text transform="translate(638.02,718.70) scale(1.0204,0.9589)" font-size="52" font-weight="bold" font-style="italic" fill="#000">A.catenella</text>
<text transform="translate(1776.42,718.70) scale(1.0163,0.9589)" font-size="52" font-weight="bold" font-style="italic" fill="#000">A.minutum</text>
<text transform="translate(638.02,1310.40) scale(1.0204,0.9616)" font-size="52" font-weight="bold" font-style="italic" fill="#000">A.catenella</text>
</g>
<g id="braces" fill="#000">
<path transform="translate(767,0)" d="M-301.7 623.6 Q-290.3 625.3 -283.6 629.3 Q-277.0 633.3 -263.6 636.6 Q-250.3 640.0 -237.0 641.0 Q-223.7 642.0 -203.7 641.0 Q-183.7 640.0 -163.7 638.6 Q-143.7 637.3 -117.0 637.3 Q-90.3 637.3 -77.0 639.0 Q-63.7 640.7 -50.4 643.7 Q-37.0 646.7 -23.6 651.4 Q-10.3 656.0 0.0 661.5 Q10.3 656.0 23.6 651.4 Q37.0 646.7 50.4 643.7 Q63.7 640.7 77.0 639.0 Q90.3 637.3 117.0 637.3 Q143.7 637.3 163.7 638.6 Q183.7 640.0 203.7 641.0 Q223.7 642.0 237.0 641.0 Q250.3 640.0 263.6 636.6 Q277.0 633.3 283.6 629.3 Q290.3 625.3 301.7 623.6 Q301.7 624.4 296.0 629.2 Q290.3 634.0 277.0 639.0 Q263.7 644.0 243.7 647.4 Q223.7 650.7 203.7 651.7 Q183.7 652.7 163.7 651.7 Q143.7 650.7 130.4 649.7 Q117.0 648.7 97.0 648.0 Q77.0 647.3 63.6 648.6 Q50.3 650.0 37.0 654.0 Q23.7 658.0 5.0 666.5 Q0.0 667.5 -2.5 667.0 Q-5.0 666.5 -14.4 662.2 Q-23.7 658.0 -37.0 654.0 Q-50.3 650.0 -63.6 648.6 Q-77.0 647.3 -97.0 648.0 Q-117.0 648.7 -130.4 649.7 Q-143.7 650.7 -163.7 651.7 Q-183.7 652.7 -203.7 651.7 Q-223.7 650.7 -243.7 647.4 Q-263.7 644.0 -277.0 639.0 Q-290.3 634.0 -301.7 624.4Z"/>
<path transform="translate(1879.5,0) scale(0.962,1)" d="M-301.7 623.6 Q-290.3 625.3 -283.6 629.3 Q-277.0 633.3 -263.6 636.6 Q-250.3 640.0 -237.0 641.0 Q-223.7 642.0 -203.7 641.0 Q-183.7 640.0 -163.7 638.6 Q-143.7 637.3 -117.0 637.3 Q-90.3 637.3 -77.0 639.0 Q-63.7 640.7 -50.4 643.7 Q-37.0 646.7 -23.6 651.4 Q-10.3 656.0 0.0 661.5 Q10.3 656.0 23.6 651.4 Q37.0 646.7 50.4 643.7 Q63.7 640.7 77.0 639.0 Q90.3 637.3 117.0 637.3 Q143.7 637.3 163.7 638.6 Q183.7 640.0 203.7 641.0 Q223.7 642.0 237.0 641.0 Q250.3 640.0 263.6 636.6 Q277.0 633.3 283.6 629.3 Q290.3 625.3 301.7 623.6 Q301.7 624.4 296.0 629.2 Q290.3 634.0 277.0 639.0 Q263.7 644.0 243.7 647.4 Q223.7 650.7 203.7 651.7 Q183.7 652.7 163.7 651.7 Q143.7 650.7 130.4 649.7 Q117.0 648.7 97.0 648.0 Q77.0 647.3 63.6 648.6 Q50.3 650.0 37.0 654.0 Q23.7 658.0 5.0 666.5 Q0.0 667.5 -2.5 667.0 Q-5.0 666.5 -14.4 662.2 Q-23.7 658.0 -37.0 654.0 Q-50.3 650.0 -63.6 648.6 Q-77.0 647.3 -97.0 648.0 Q-117.0 648.7 -130.4 649.7 Q-143.7 650.7 -163.7 651.7 Q-183.7 652.7 -203.7 651.7 Q-223.7 650.7 -243.7 647.4 Q-263.7 644.0 -277.0 639.0 Q-290.3 634.0 -301.7 624.4Z"/>
<path transform="translate(767,591.8)" d="M-301.7 623.6 Q-290.3 625.3 -283.6 629.3 Q-277.0 633.3 -263.6 636.6 Q-250.3 640.0 -237.0 641.0 Q-223.7 642.0 -203.7 641.0 Q-183.7 640.0 -163.7 638.6 Q-143.7 637.3 -117.0 637.3 Q-90.3 637.3 -77.0 639.0 Q-63.7 640.7 -50.4 643.7 Q-37.0 646.7 -23.6 651.4 Q-10.3 656.0 0.0 661.5 Q10.3 656.0 23.6 651.4 Q37.0 646.7 50.4 643.7 Q63.7 640.7 77.0 639.0 Q90.3 637.3 117.0 637.3 Q143.7 637.3 163.7 638.6 Q183.7 640.0 203.7 641.0 Q223.7 642.0 237.0 641.0 Q250.3 640.0 263.6 636.6 Q277.0 633.3 283.6 629.3 Q290.3 625.3 301.7 623.6 Q301.7 624.4 296.0 629.2 Q290.3 634.0 277.0 639.0 Q263.7 644.0 243.7 647.4 Q223.7 650.7 203.7 651.7 Q183.7 652.7 163.7 651.7 Q143.7 650.7 130.4 649.7 Q117.0 648.7 97.0 648.0 Q77.0 647.3 63.6 648.6 Q50.3 650.0 37.0 654.0 Q23.7 658.0 5.0 666.5 Q0.0 667.5 -2.5 667.0 Q-5.0 666.5 -14.4 662.2 Q-23.7 658.0 -37.0 654.0 Q-50.3 650.0 -63.6 648.6 Q-77.0 647.3 -97.0 648.0 Q-117.0 648.7 -130.4 649.7 Q-143.7 650.7 -163.7 651.7 Q-183.7 652.7 -203.7 651.7 Q-223.7 650.7 -243.7 647.4 Q-263.7 644.0 -277.0 639.0 Q-290.3 634.0 -301.7 624.4Z"/>
</g>
</g>
</svg></body></html>
